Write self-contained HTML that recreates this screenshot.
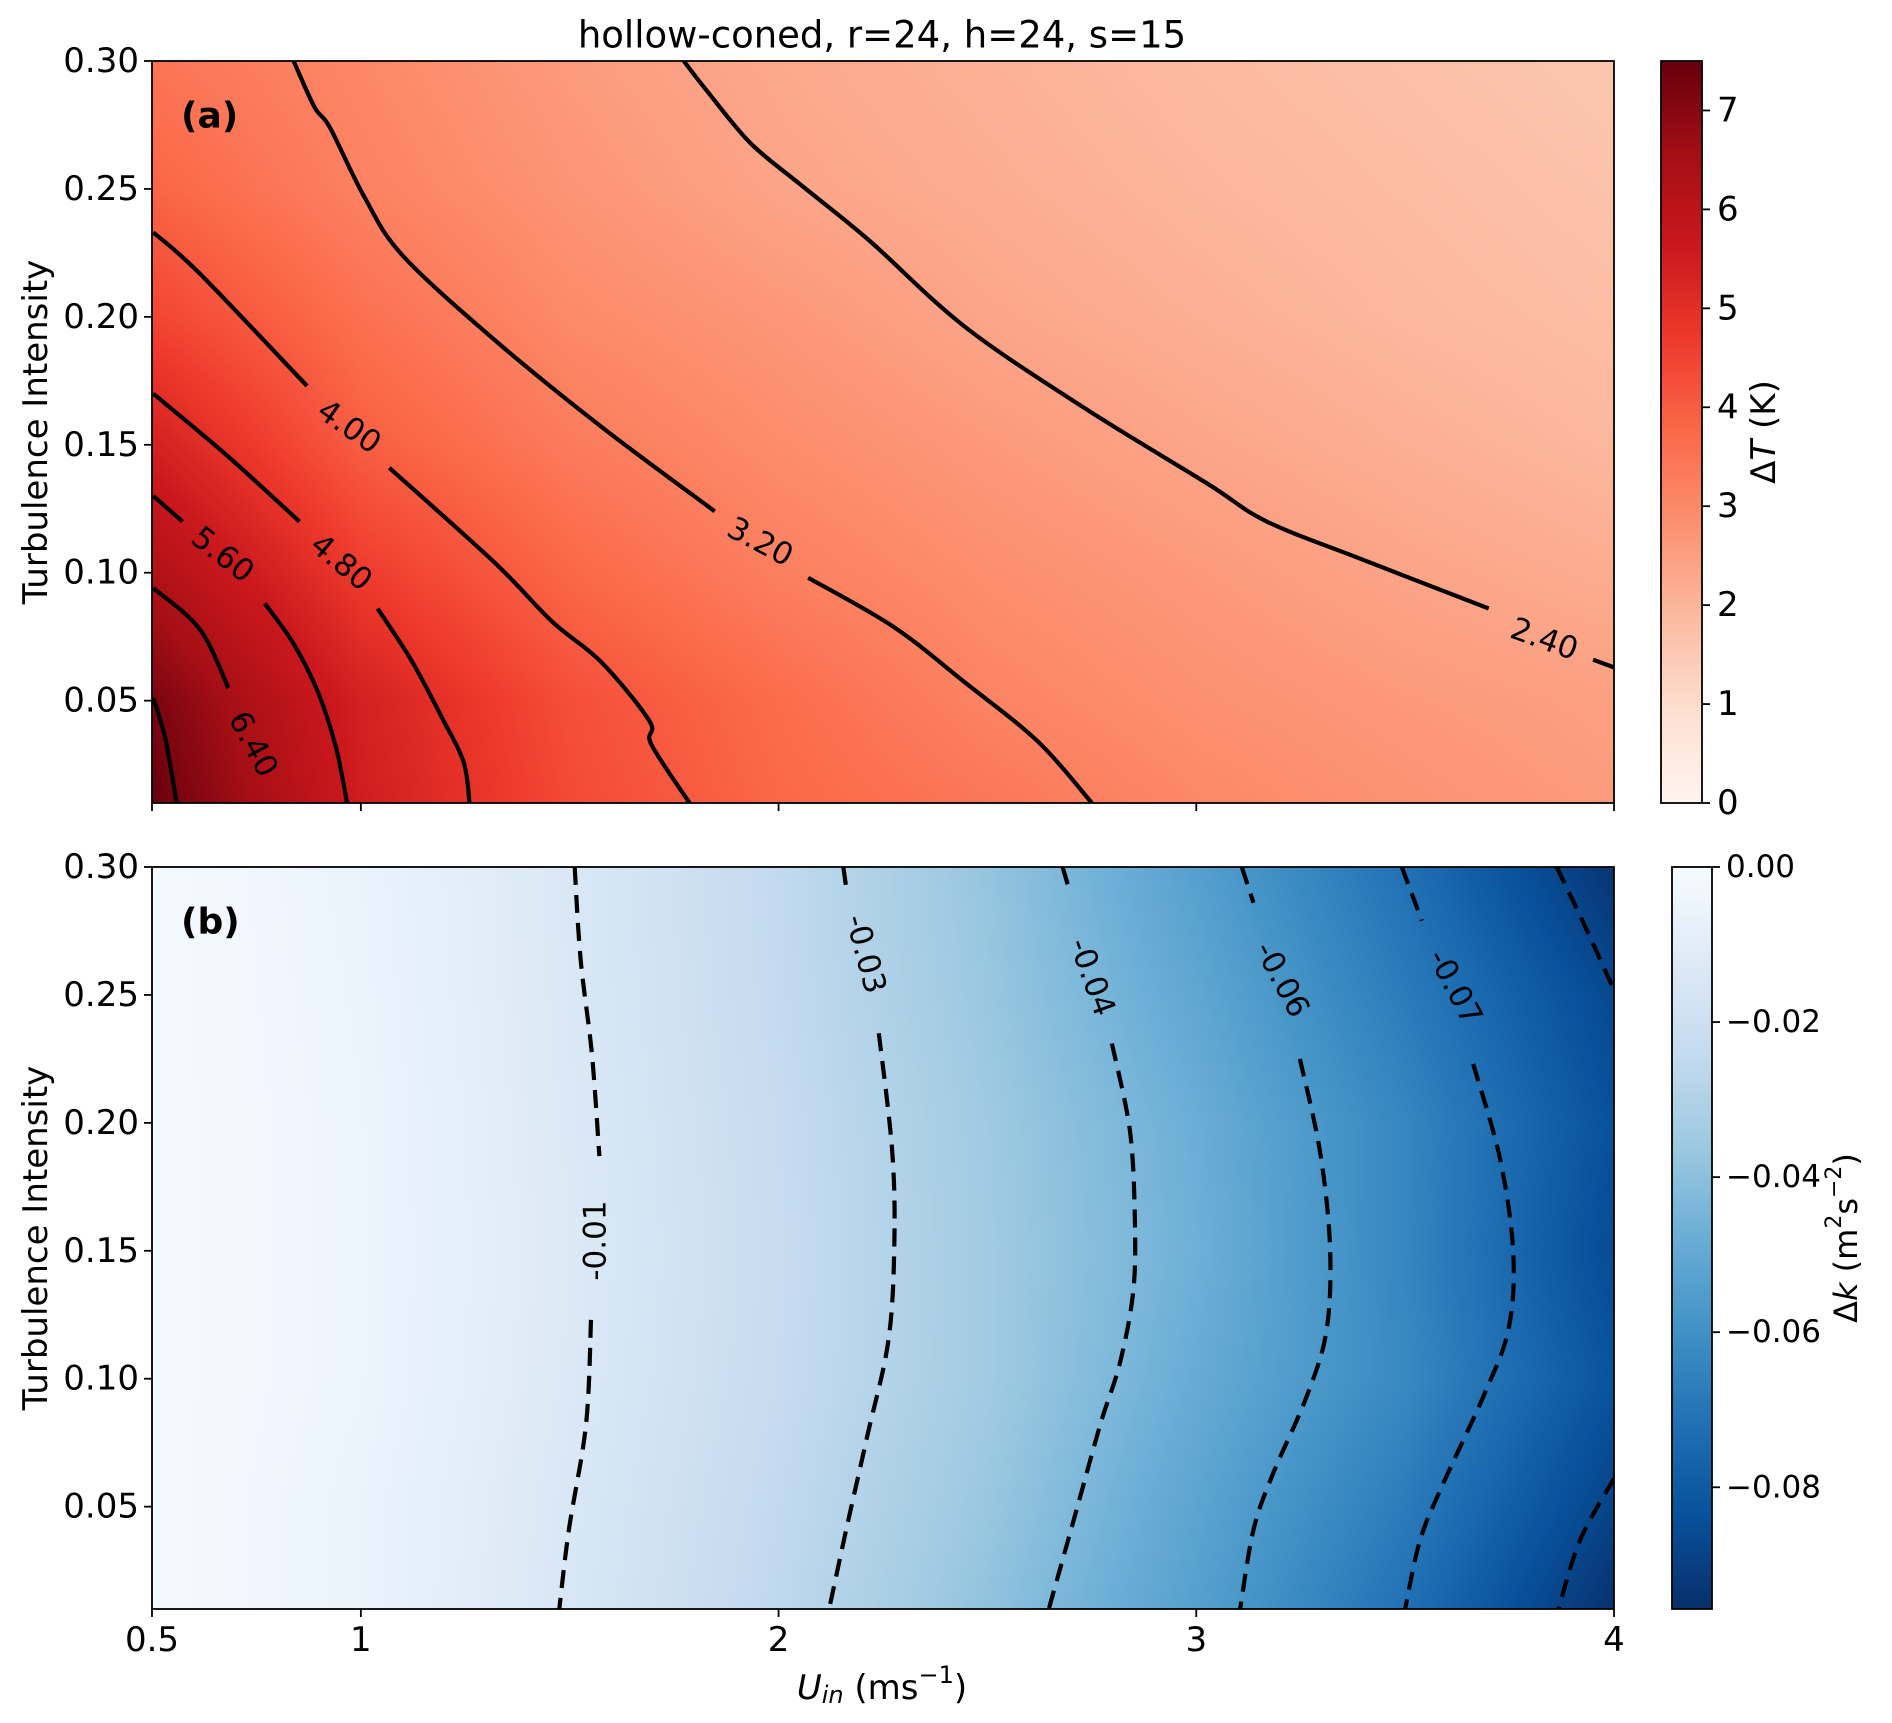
<!DOCTYPE html>
<html><head><meta charset="utf-8">
<style>
html,body{margin:0;padding:0;background:#fff;}
#wrap{position:relative;width:1892px;height:1723px;overflow:hidden;font-family:"DejaVu Sans","Liberation Sans",sans-serif;}
canvas{position:absolute;display:block;}
svg{position:absolute;left:0;top:0;}
</style></head>
<body>
<div id="wrap">
<canvas id="cvA" width="1462" height="742" style="left:152px;top:61px"></canvas>
<canvas id="cvB" width="1462" height="742" style="left:152px;top:867px"></canvas>
<canvas id="cbA" width="41" height="742" style="left:1661px;top:61px"></canvas>
<canvas id="cbB" width="40" height="742" style="left:1672px;top:867px"></canvas>
<svg id="svg" width="1892" height="1723" xmlns="http://www.w3.org/2000/svg"></svg>
</div>
<script>
// ---- data ----
const uGrid = [0.5,1,1.5,2,2.5,3,3.5,4];
const tiGrid = [0.01,0.05,0.10,0.15,0.20,0.25,0.30];
const dT = [
 [7.5,5.5,4.4,3.8,3.45,3.05,2.8,2.6],
 [7.2,5.4,4.3,3.7,3.15,2.85,2.65,2.5],
 [6.3,4.7,3.8,3.25,2.9,2.65,2.4,2.2],
 [5.4,4.0,3.35,2.95,2.65,2.38,2.15,1.95],
 [4.5,3.6,3.0,2.7,2.37,2.15,1.95,1.8],
 [3.85,3.2,2.75,2.4,2.2,2.0,1.85,1.7],
 [3.5,3.05,2.6,2.3,2.1,1.9,1.75,1.6]
];
const dK = [
 [-0.001,-0.006,-0.015,-0.026,-0.039,-0.054,-0.072,-0.095],
 [-0.001,-0.006,-0.0145,-0.025,-0.037,-0.052,-0.068,-0.089],
 [-0.001,-0.005,-0.0135,-0.0235,-0.035,-0.049,-0.063,-0.083],
 [-0.001,-0.005,-0.013,-0.023,-0.035,-0.047,-0.064,-0.086],
 [-0.001,-0.005,-0.0135,-0.0235,-0.0355,-0.048,-0.064,-0.084],
 [-0.001,-0.0055,-0.014,-0.0245,-0.037,-0.051,-0.068,-0.087],
 [-0.001,-0.006,-0.0142,-0.025,-0.038,-0.054,-0.072,-0.094]
];
const xTicks = [0.5,1,2,3,4];
const xTickLabels = ["0.5","1","2","3","4"];
const yTicks = [0.05,0.10,0.15,0.20,0.25,0.30];
const yTickLabels = ["0.05","0.10","0.15","0.20","0.25","0.30"];
const cbATicks = [0,1,2,3,4,5,6,7];
const cbBTicks = [0,-0.02,-0.04,-0.06,-0.08];
const cbBTickLabels = ["0.00","\u22120.02","\u22120.04","\u22120.06","\u22120.08"];
// contour segments for panel a (U, TI)
const cA640 = [[[0.503,0.094],[0.614,0.078],[0.683,0.055]]];
const cA560 = [[[0.503,0.130],[0.573,0.120]],[[0.770,0.088],[0.84,0.072],[0.898,0.053],[0.94,0.032],[0.967,0.01]]];
const cA480 = [[[0.503,0.170],[0.678,0.146],[0.853,0.120]],[[1.040,0.086],[1.12,0.066],[1.192,0.044],[1.246,0.026],[1.26,0.01]]];
const cA400 = [[[0.503,0.233],[0.614,0.217],[0.871,0.173]],[[1.068,0.141],[1.320,0.104],[1.457,0.081],[1.576,0.065],[1.691,0.042],[1.695,0.033],[1.787,0.01]]];
const cA320 = [[[0.839,0.30],[0.889,0.282],[0.926,0.274],[1.008,0.247],[1.100,0.224],[1.320,0.191],[1.576,0.157],[1.847,0.124]],[[2.071,0.098],[2.274,0.079],[2.447,0.057],[2.621,0.034],[2.750,0.01]]];
const cA240 = [[[1.773,0.30],[1.83,0.288],[1.932,0.268],[2.05,0.252],[2.216,0.230],[2.447,0.196],[2.736,0.164],[3.025,0.135],[3.169,0.120],[3.40,0.105],[3.70,0.086]],[[3.95,0.066],[4.0,0.063]]];
const cA720 = [[[0.503,0.051],[0.532,0.035],[0.559,0.01]]];
const contoursA = [cA720,cA640,cA560,cA480,cA400,cA320,cA240];
const labelsA = [["6.40",0.742,0.033,62],["5.60",0.669,0.107,38],["4.80",0.953,0.104,40],["4.00",0.972,0.157,35],["3.20",1.956,0.112,28],["2.40",3.833,0.074,20]];
// panel b
const cB1 = [[[1.512,0.30],[1.526,0.264],[1.553,0.227],[1.571,0.187]],[[1.551,0.123],[1.539,0.082],[1.498,0.041],[1.475,0.01]]];
const cB2 = [[[2.155,0.30],[2.162,0.292]],[[2.240,0.235],[2.272,0.189],[2.277,0.152],[2.263,0.115],[2.213,0.078],[2.162,0.041],[2.121,0.01]]];
const cB3 = [[[2.680,0.30],[2.698,0.290]],[[2.798,0.231],[2.841,0.197],[2.853,0.162],[2.849,0.134],[2.817,0.106],[2.770,0.082],[2.707,0.045],[2.647,0.01]]];
const cB4 = [[[3.109,0.30],[3.137,0.286]],[[3.248,0.225],[3.296,0.189],[3.320,0.152],[3.312,0.119],[3.264,0.093],[3.184,0.063],[3.137,0.041],[3.105,0.01]]];
const cB5 = [[[3.492,0.30],[3.540,0.279]],[[3.663,0.223],[3.727,0.186],[3.759,0.149],[3.747,0.119],[3.687,0.093],[3.591,0.059],[3.536,0.037],[3.500,0.01]]];
const cB6 = [[[3.863,0.30],[3.93,0.277],[4.0,0.252]],[[4.0,0.061],[3.919,0.037],[3.867,0.01]]];
const contoursB = [cB1,cB2,cB3,cB4,cB5,cB6];
const labelsB = [["-0.01",1.562,0.154,-90],["-0.03",2.208,0.266,75],["-0.04",2.750,0.257,70],["-0.06",3.205,0.256,62],["-0.07",3.619,0.253,62]];

// ---- geometry ----
const PX0=152, PX1=1614, AY0=61, AY1=803, BY0=867, BY1=1609;
const xs = u => PX0 + (u-0.5)/3.5*(PX1-PX0);
const ysA = t => AY1 - (t-0.01)/0.29*(AY1-AY0);
const ysB = t => BY1 - (t-0.01)/0.29*(BY1-BY0);

const REDS=["#fff5f0","#fee0d2","#fcbba1","#fc9272","#fb6a4a","#ef3b2c","#cb181d","#a50f15","#67000d"];
const BLUES=["#f7fbff","#deebf7","#c6dbef","#9ecae1","#6baed6","#4292c6","#2171b5","#08519c","#08306b"];
function hex(h){return [parseInt(h.substr(1,2),16),parseInt(h.substr(3,2),16),parseInt(h.substr(5,2),16)];}
const RR=REDS.map(hex), BB=BLUES.map(hex);
function cmap(c,t){t=Math.max(0,Math.min(1,t));const f=t*8;const i=Math.min(7,Math.floor(f));const r=f-i;
 return [0,1,2].map(k=>c[i][k]+(c[i+1][k]-c[i][k])*r);}
function idx(arr,v){let i=0;while(i<arr.length-2&&v>arr[i+1])i++;const r=(v-arr[i])/(arr[i+1]-arr[i]);return [i,Math.max(0,Math.min(1,r))];}
function interp(g,u,t){const [i,ru]=idx(uGrid,u);const [j,rt]=idx(tiGrid,t);
 const a=g[j][i]+(g[j][i+1]-g[j][i])*ru, b=g[j+1][i]+(g[j+1][i+1]-g[j+1][i])*ru; return a+(b-a)*rt;}
function paint(id,g,fn){const c=document.getElementById(id);const ctx=c.getContext('2d');const W=c.width,H=c.height;
 const im=ctx.createImageData(W,H);
 for(let y=0;y<H;y++){const t=0.30-(y+0.5)/H*0.29;
  for(let x=0;x<W;x++){const u=0.5+(x+0.5)/W*3.5;const col=fn(interp(g,u,t));const p=(y*W+x)*4;
   im.data[p]=col[0];im.data[p+1]=col[1];im.data[p+2]=col[2];im.data[p+3]=255;}}
 ctx.putImageData(im,0,0);}
paint('cvA',dT,v=>cmap(RR,v/7.5));
paint('cvB',dK,v=>cmap(BB,-v/0.0957));
function paintBar(id,c,flip){const cv=document.getElementById(id);const ctx=cv.getContext('2d');
 for(let y=0;y<cv.height;y++){const f=(y+0.5)/cv.height;const col=cmap(c,flip?f:1-f);ctx.fillStyle=`rgb(${col[0]|0},${col[1]|0},${col[2]|0})`;ctx.fillRect(0,y,cv.width,1);}}
paintBar('cbA',RR,false);paintBar('cbB',BB,true);

// ---- svg ----
const NS="http://www.w3.org/2000/svg";const svg=document.getElementById('svg');
function mk(tag,attrs,parent){const e=document.createElementNS(NS,tag);for(const k in attrs)e.setAttribute(k,attrs[k]);(parent||svg).appendChild(e);return e;}
function txt(s,x,y,attrs,name){const e=mk('text',Object.assign({x:x,y:y,'font-size':34,fill:'#000'},attrs||{}));e.textContent=s;
 
 
 return e;}
function smoothPath(pts){if(pts.length<3){return 'M'+pts.map(p=>p[0].toFixed(1)+','+p[1].toFixed(1)).join(' L');}
 let d='M'+pts[0][0].toFixed(1)+','+pts[0][1].toFixed(1);
 for(let i=0;i<pts.length-1;i++){const p0=pts[Math.max(0,i-1)],p1=pts[i],p2=pts[i+1],p3=pts[Math.min(pts.length-1,i+2)];
  const c1=[p1[0]+(p2[0]-p0[0])/6,p1[1]+(p2[1]-p0[1])/6],c2=[p2[0]-(p3[0]-p1[0])/6,p2[1]-(p3[1]-p1[1])/6];
  d+=` C${c1[0].toFixed(1)},${c1[1].toFixed(1)} ${c2[0].toFixed(1)},${c2[1].toFixed(1)} ${p2[0].toFixed(1)},${p2[1].toFixed(1)}`;}
 return d;}
const clipA=mk('clipPath',{id:'clA'});mk('rect',{x:PX0,y:AY0,width:PX1-PX0,height:AY1-AY0},clipA);
const clipB=mk('clipPath',{id:'clB'});mk('rect',{x:PX0,y:BY0,width:PX1-PX0,height:BY1-BY0},clipB);
const gA=mk('g',{'clip-path':'url(#clA)'});


contoursA.forEach(c=>c.forEach(seg=>{const p=mk('path',{d:smoothPath(seg.map(q=>[xs(q[0]),ysA(q[1])])),fill:'none',stroke:'#000','stroke-width':4.2,'stroke-linejoin':'round'},gA);
 
 }));
labelsA.forEach(l=>{const x=xs(l[1]),y=ysA(l[2]);txt(l[0],x,y,{'font-size':31,'text-anchor':'middle','dominant-baseline':'central',transform:`rotate(${l[3]} ${x} ${y})`},'contour-label');});
const gB=mk('g',{'clip-path':'url(#clB)'});


contoursB.forEach(c=>c.forEach(seg=>{const p=mk('path',{d:smoothPath(seg.map(q=>[xs(q[0]),ysB(q[1])])),fill:'none',stroke:'#000','stroke-width':4.2,'stroke-dasharray':'18 10'},gB);
 
 }));
labelsB.forEach(l=>{const x=xs(l[1]),y=ysB(l[2]);txt(l[0],x,y,{'font-size':31,'text-anchor':'middle','dominant-baseline':'central',transform:`rotate(${l[3]} ${x} ${y})`},'contour-label');});

// frames and ticks
[[AY0,AY1,ysA,false],[BY0,BY1,ysB,true]].forEach(([y0,y1,ys,showX])=>{
 const r=mk('rect',{x:PX0,y:y0,width:PX1-PX0,height:y1-y0,fill:'none',stroke:'#000','stroke-width':1.8});
 
 
 yTicks.forEach((t,i)=>{mk('line',{x1:PX0-8,x2:PX0,y1:ys(t),y2:ys(t),stroke:'#000','stroke-width':1.8});
  txt(yTickLabels[i],PX0-13,ys(t),{'text-anchor':'end','dominant-baseline':'central'},'y-tick-label');});
 xTicks.forEach((u,i)=>{mk('line',{x1:xs(u),x2:xs(u),y1:y1,y2:y1+8,stroke:'#000','stroke-width':1.8});
  if(showX)txt(xTickLabels[i],xs(u),1640,{'text-anchor':'middle','dominant-baseline':'central'},'x-tick-label');});
 const cy=(y0+y1)/2;txt('Turbulence Intensity',36,cy,{'text-anchor':'middle','dominant-baseline':'central',transform:`rotate(-90 36 ${cy})`},'y-axis-title');
});
txt('(a)',181,116,{'font-weight':'bold','font-size':36,'dominant-baseline':'central'},'panel-label-a');
txt('(b)',181,922,{'font-weight':'bold','font-size':36,'dominant-baseline':'central'},'panel-label-b');
txt('hollow-coned, r=24, h=24, s=15',882,35,{'text-anchor':'middle','dominant-baseline':'central','font-size':37},'chart-title');
const xl=txt('',882,1688,{'text-anchor':'middle','dominant-baseline':'central'},'x-axis-title');
xl.innerHTML='<tspan font-style="italic">U</tspan><tspan font-style="italic" font-size="24" dy="7">in</tspan><tspan dy="-7"> (ms</tspan><tspan font-size="24" dy="-13">−1</tspan><tspan dy="13">)</tspan>';
// colorbars
const rA=mk('rect',{x:1661,y:AY0,width:41,height:AY1-AY0,fill:'none',stroke:'#000','stroke-width':1.8});


cbATicks.forEach(v=>{const y=AY1-v/7.5*(AY1-AY0);mk('line',{x1:1702,x2:1710,y1:y,y2:y,stroke:'#000','stroke-width':1.8});
 txt(String(v),1717,y,{'dominant-baseline':'central'},'colorbar-tick-label');});
txt('',1764,432,{'text-anchor':'middle','dominant-baseline':'central',transform:'rotate(-90 1764 432)'},'colorbar-title-a').innerHTML='Δ<tspan font-style="italic">T</tspan> (K)';
const rB=mk('rect',{x:1672,y:BY0,width:40,height:BY1-BY0,fill:'none',stroke:'#000','stroke-width':1.8});


cbBTicks.forEach((v,i)=>{const y=BY0+(-v)/0.0957*(BY1-BY0);mk('line',{x1:1712,x2:1720,y1:y,y2:y,stroke:'#000','stroke-width':1.8});
 txt(cbBTickLabels[i],1726,y,{'dominant-baseline':'central','font-size':31},'colorbar-tick-label');});
txt('',1846,1238,{'text-anchor':'middle','dominant-baseline':'central',transform:'rotate(-90 1846 1238)','font-size':32},'colorbar-title-b').innerHTML='Δ<tspan font-style="italic">k</tspan> (m<tspan font-size="22" dy="-12">2</tspan><tspan dy="12">s</tspan><tspan font-size="22" dy="-12">−2</tspan><tspan dy="12">)</tspan>';
</script>
</body></html>
